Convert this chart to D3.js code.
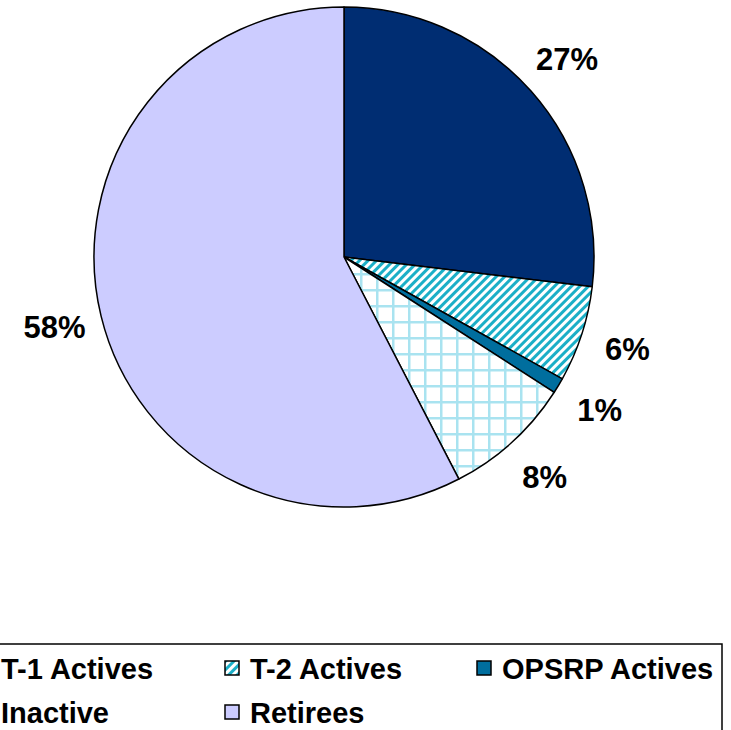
<!DOCTYPE html>
<html><head><meta charset="utf-8">
<script src="https://cdn.jsdelivr.net/npm/d3@7"></script>
<style>body{margin:0;background:#fff;overflow:hidden}svg{display:block}</style>
</head><body>
<script>
const categories = ["T-1 Actives", "T-2 Actives", "OPSRP Actives", "Inactive", "Retirees"];
const values = [26.9, 6.2, 1.0, 8.3, 57.6];
const fills = ["#002D72", "url(#hatch)", "#006E9E", "url(#grid)", "#CCCCFF"];
const legendOrder = [0, 1, 2, 3, 4];

const W = 731, H = 730;
const svg = d3.select("body").append("svg").attr("width", W).attr("height", H);
const defs = svg.append("defs");

const hatch = defs.append("pattern").attr("id", "hatch").attr("patternUnits", "userSpaceOnUse")
  .attr("width", 6).attr("height", 6).attr("patternTransform", "rotate(45)");
hatch.append("rect").attr("width", 6).attr("height", 6).attr("fill", "#fff");
hatch.append("rect").attr("width", 3).attr("height", 6).attr("fill", "#1BAFC7");

const grid = defs.append("pattern").attr("id", "grid").attr("patternUnits", "userSpaceOnUse")
  .attr("width", 16).attr("height", 16);
grid.append("rect").attr("width", 16).attr("height", 16).attr("fill", "#fff");
grid.append("rect").attr("x", 0).attr("y", 0).attr("width", 2.5).attr("height", 16).attr("fill", "#A9E3F0");
grid.append("rect").attr("x", 0).attr("y", 0).attr("width", 16).attr("height", 2.5).attr("fill", "#A9E3F0");

const cx = 344, cy = 257, R = 250, RL = 298;
const pie = d3.pie().sort(null).value(d => d)(values);
const arc = d3.arc().innerRadius(0).outerRadius(R);
const g = svg.append("g").attr("transform", `translate(${cx},${cy})`);
g.selectAll("path.slice").data(pie).join("path").attr("class", "slice")
  .attr("d", arc).attr("fill", (d, i) => fills[i])
  .attr("stroke", "#000").attr("stroke-width", 1.5).attr("stroke-linejoin", "round");

const lab = d3.arc().innerRadius(RL).outerRadius(RL);
const fmt = v => Math.round(v) + "%";
g.selectAll("text.lbl").data(pie).join("text").attr("class", "lbl")
  .attr("transform", d => `translate(${lab.centroid(d)})`)
  .attr("text-anchor", "middle").attr("dominant-baseline", "central")
  .attr("font-family", "'Liberation Sans', Arial, sans-serif").attr("font-weight", "bold")
  .attr("font-size", 31).attr("fill", "#000")
  .text(d => fmt(d.value));

// legend
const lg = svg.append("g");
lg.append("rect").attr("x", -40).attr("y", 644).attr("width", 762).attr("height", 120)
  .attr("fill", "#fff").attr("stroke", "#000").attr("stroke-width", 1.5);
const colX = [-24, 225, 477], rowY = [668, 712];
const items = lg.selectAll("g.li").data(legendOrder).join("g").attr("class", "li")
  .attr("transform", (d, i) => `translate(${colX[i % 3]},${rowY[Math.floor(i / 3)]})`);
items.append("rect").attr("x", 0).attr("y", -7).attr("width", 14).attr("height", 14)
  .attr("fill", d => fills[d]).attr("stroke", "#000").attr("stroke-width", 1.5);
items.append("text").attr("x", 25).attr("y", 1).attr("dominant-baseline", "central")
  .attr("font-family", "'Liberation Sans', Arial, sans-serif").attr("font-weight", "bold")
  .attr("font-size", 29).attr("fill", "#000").text(d => categories[d]);
</script>
</body></html>
